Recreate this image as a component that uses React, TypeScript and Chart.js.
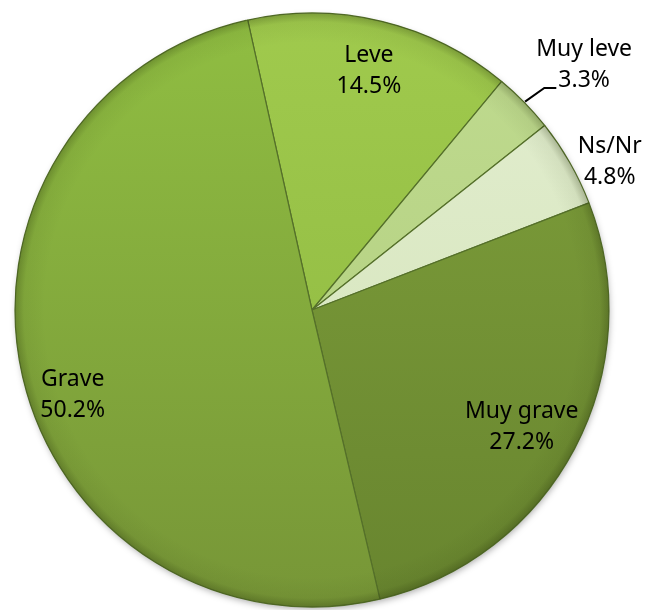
import React, { useEffect, useRef } from "react";
import { Chart, registerables } from "chart.js";

Chart.register(...registerables);

const categories = ["Leve", "Muy leve", "Ns/Nr", "Muy grave", "Grave"];
const values = [14.5, 3.3, 4.8, 27.2, 50.2];
const valueLabels = ["14.5%", "3.3%", "4.8%", "27.2%", "50.2%"];
const topColors = ["#A0CA4D", "#C0DB90", "#E3EED1", "#7FA03B", "#90BE42"];
const bottomColors = ["#8CB63F", "#AECC7A", "#D1E2B4", "#68852F", "#779637"];
// label placement: angle offset (deg) from slice middle, radius factor, leader line
const labelAngleOffset = [-0.2, 2.3, 3.3, 1.25, -6.7];
const labelRadiusFactor = [0.827, 1.234, 1.12, 0.808, 0.855];
const labelLeader = [false, true, false, false, false];

const FONT = '23px "Noto Sans", "Open Sans", sans-serif';
const LINE_H = 31;

const shadowPlugin = {
  id: "pieShadow",
  beforeDatasetsDraw(chart: any) {
    const arc = chart.getDatasetMeta(0).data[0];
    if (!arc) return;
    const { x, y, outerRadius } = arc.getProps(["x", "y", "outerRadius"], true);
    const ctx = chart.ctx;
    ctx.save();
    ctx.shadowColor = "rgba(0,0,0,0.35)";
    ctx.shadowBlur = 7;
    ctx.shadowOffsetX = 1;
    ctx.shadowOffsetY = 3;
    ctx.beginPath();
    ctx.arc(x, y, outerRadius - 1, 0, Math.PI * 2);
    ctx.fillStyle = "#7a9a38";
    ctx.fill();
    ctx.restore();
  },
};

const overlayPlugin = {
  id: "edgeAndLabels",
  afterDatasetsDraw(chart: any) {
    const meta = chart.getDatasetMeta(0);
    const ctx = chart.ctx;
    const first = meta.data[0];
    if (!first) return;
    const { x: cx, y: cy, outerRadius: R } = first.getProps(["x", "y", "outerRadius"], true);
    // edge darkening (bevel-like)
    ctx.save();
    const g = ctx.createRadialGradient(cx, cy, R * 0.9, cx, cy, R);
    g.addColorStop(0, "rgba(30,40,5,0)");
    g.addColorStop(0.7, "rgba(30,40,5,0.06)");
    g.addColorStop(1, "rgba(30,40,5,0.28)");
    ctx.beginPath();
    ctx.arc(cx, cy, R, 0, Math.PI * 2);
    ctx.fillStyle = g;
    ctx.fill();
    ctx.restore();

    ctx.save();
    ctx.font = FONT;
    ctx.fillStyle = "#000";
    ctx.textAlign = "center";
    ctx.textBaseline = "middle";
    meta.data.forEach((arc: any, i: number) => {
      const { startAngle, endAngle } = arc.getProps(["startAngle", "endAngle"], true);
      const mid = (startAngle + endAngle) / 2;
      const a = mid + (labelAngleOffset[i] * Math.PI) / 180;
      const r = R * labelRadiusFactor[i];
      const px = cx + Math.cos(a) * r;
      const py = cy + Math.sin(a) * r;
      const y1 = py - LINE_H / 2;
      const y2 = py + LINE_H / 2;
      ctx.fillText(categories[i], px, y1);
      ctx.fillText(valueLabels[i], px, y2);
      if (labelLeader[i]) {
        const w = ctx.measureText(valueLabels[i]).width;
        const endX = px - w / 2 - 2;
        const lineY = y2 + 8;
        const sx = cx + Math.cos(mid) * (R + 1);
        const sy = cy + Math.sin(mid) * (R + 1);
        ctx.beginPath();
        ctx.moveTo(sx, sy);
        ctx.lineTo(endX - 12, lineY);
        ctx.lineTo(endX, lineY);
        ctx.strokeStyle = "#000";
        ctx.lineWidth = 2;
        ctx.stroke();
      }
    });
    ctx.restore();
  },
};

export default function App() {
  const ref = useRef<HTMLCanvasElement | null>(null);
  useEffect(() => {
    if (!ref.current) return;
    const chart = new Chart(ref.current, {
      type: "pie",
      data: {
        labels: categories,
        datasets: [
          {
            data: values,
            backgroundColor: (c: any) => {
              const ch = c.chart;
              const i = c.dataIndex;
              const area = ch.chartArea;
              if (!area) return topColors[i];
              const cy = (area.top + area.bottom) / 2;
              const grad = ch.ctx.createLinearGradient(0, cy - 297, 0, cy + 297);
              grad.addColorStop(0, topColors[i]);
              grad.addColorStop(1, bottomColors[i]);
              return grad;
            },
            borderColor: "#55702a",
            borderWidth: 1.2,
          },
        ],
      },
      options: {
        responsive: false,
        animation: false,
        rotation: -12.5,
        radius: 297,
        layout: { padding: { top: 10, right: 23, bottom: 0, left: 0 } },
        plugins: {
          legend: { display: false },
          tooltip: { enabled: false },
        },
      },
      plugins: [shadowPlugin, overlayPlugin],
    });
    return () => chart.destroy();
  }, []);
  return (
    <canvas
      ref={ref}
      width={647}
      height={610}
      style={{ position: "absolute", left: 0, top: 0, display: "block" }}
    />
  );
}
